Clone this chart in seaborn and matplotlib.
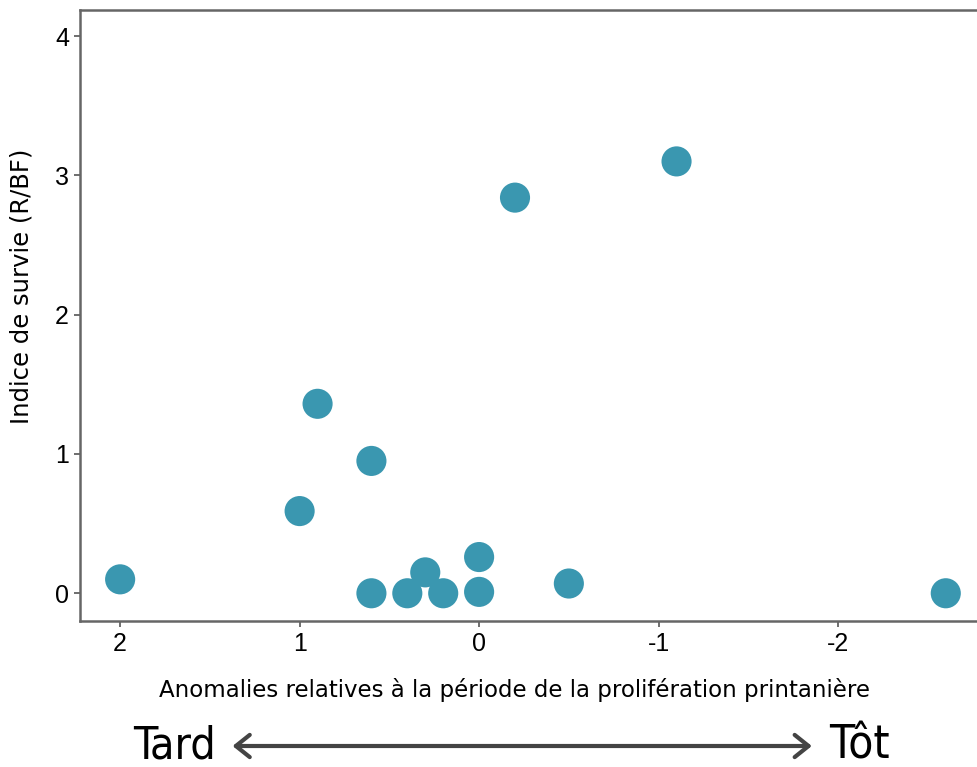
import matplotlib
matplotlib.use("Agg")
import matplotlib.pyplot as plt
import seaborn as sns
import pandas as pd

# data
anomalie = [2.0, 1.0, 0.9, 0.6, 0.6, 0.4, 0.3, 0.2, 0.0, 0.0, -0.2, -0.5, -1.1, -2.6]
survie = [0.10, 0.59, 1.36, 0.95, 0.0, 0.0, 0.15, 0.0, 0.26, 0.01, 2.84, 0.07, 3.10, 0.0]
x_ticks = [2, 1, 0, -1, -2]
y_ticks = [0, 1, 2, 3, 4]

df = pd.DataFrame({"anomalie": anomalie, "survie": survie})

sns.set_style("white")
plt.rcParams["font.family"] = ["Liberation Sans", "DejaVu Sans"]
plt.rcParams["text.color"] = "black"
plt.rcParams["axes.labelcolor"] = "black"

fig = plt.figure(figsize=(9.77, 7.67), dpi=100)
ax = fig.add_axes([0.082, 0.19, 0.918, 0.797])

sns.scatterplot(data=df, x="anomalie", y="survie", ax=ax, s=470,
                color="#3a97b0", edgecolor="none", zorder=3)

ax.set_xlim(2.223, -2.774)
ax.set_ylim(-0.201, 4.187)
ax.set_xticks(x_ticks)
ax.set_yticks(y_ticks)
ax.set_xticklabels([str(t) for t in x_ticks])
ax.set_yticklabels([str(t) for t in y_ticks])
ax.tick_params(axis="both", labelsize=18, length=4, width=1.2, labelcolor="black",
               color="#555555", direction="out", bottom=True, left=True, pad=4)

for side in ["left", "bottom", "top"]:
    ax.spines[side].set_color("#666666")
    ax.spines[side].set_linewidth(1.8)
ax.spines["right"].set_visible(False)

ax.set_xlabel("Anomalies relatives à la période de la prolifération printanière",
              fontsize=16.5, family="DejaVu Sans")
ax.set_ylabel("Indice de survie (R/BF)", fontsize=17.5, family="DejaVu Sans")
ax.xaxis.set_label_coords(0.484, -0.092)
ax.yaxis.set_label_coords(-0.052, 0.548)

# Tard <-> Tôt annotation under the axis
y_arrow = 1 - 746 / 767
fig.text(0.136, y_arrow, "Tard", fontsize=32, family="DejaVu Sans", stretch="condensed",
         ha="left", va="center")
fig.text(0.849, y_arrow, "Tôt", fontsize=33, family="DejaVu Sans", stretch="condensed",
         ha="left", va="center")
fig.add_artist(matplotlib.patches.FancyArrowPatch(
    (0.238, y_arrow), (0.831, y_arrow), transform=fig.transFigure,
    arrowstyle="<->,head_length=0.5,head_width=0.4", color="#444444", lw=3,
    mutation_scale=20, shrinkA=0, shrinkB=0))

fig.savefig("out.png", dpi=100)
